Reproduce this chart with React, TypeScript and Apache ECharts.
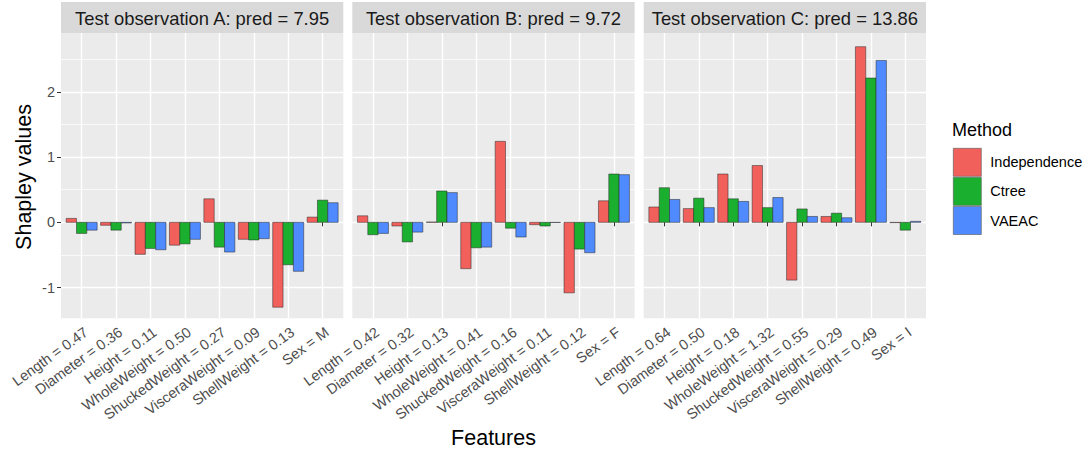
import React, { useEffect, useRef } from 'react';
import * as echarts from 'echarts';

const methods = ['Independence', 'Ctree', 'VAEAC'];
const methodColors = ['#F2605C', '#1AAF2E', '#4F8BFF'];
const panelTitles = [
  'Test observation A: pred = 7.95',
  'Test observation B: pred = 9.72',
  'Test observation C: pred = 13.86',
];
const featuresA = ['Length = 0.47', 'Diameter = 0.36', 'Height = 0.11', 'WholeWeight = 0.50', 'ShuckedWeight = 0.27', 'VisceraWeight = 0.09', 'ShellWeight = 0.13', 'Sex = M'];
const featuresB = ['Length = 0.42', 'Diameter = 0.32', 'Height = 0.13', 'WholeWeight = 0.41', 'ShuckedWeight = 0.16', 'VisceraWeight = 0.11', 'ShellWeight = 0.12', 'Sex = F'];
const featuresC = ['Length = 0.64', 'Diameter = 0.50', 'Height = 0.18', 'WholeWeight = 1.32', 'ShuckedWeight = 0.55', 'VisceraWeight = 0.29', 'ShellWeight = 0.49', 'Sex = I'];

const independenceA = [0.06, -0.045, -0.49, -0.35, 0.36, -0.26, -1.3, 0.08];
const ctreeA = [-0.17, -0.12, -0.4, -0.33, -0.38, -0.27, -0.65, 0.34];
const vaeacA = [-0.12, -0.01, -0.42, -0.26, -0.455, -0.25, -0.75, 0.3];
const independenceB = [0.1, -0.056, 0.005, -0.71, 1.24, -0.036, -1.08, 0.33];
const ctreeB = [-0.19, -0.3, 0.48, -0.39, -0.09, -0.056, -0.41, 0.74];
const vaeacB = [-0.17, -0.15, 0.455, -0.38, -0.225, -0.003, -0.465, 0.73];
const independenceC = [0.235, 0.21, 0.74, 0.87, -0.885, 0.09, 2.69, -0.005];
const ctreeC = [0.53, 0.37, 0.36, 0.225, 0.205, 0.14, 2.21, -0.12];
const vaeacC = [0.35, 0.225, 0.32, 0.38, 0.09, 0.07, 2.48, 0.015];

const yTicks = [-1, 0, 1, 2];
const yMinor = [-0.5, 0.5, 1.5, 2.5];
const xPositions = [1, 2, 3, 4, 5, 6, 7, 8];

const FONT = '"Liberation Sans", Arial, Helvetica, sans-serif';

export default function App() {
  const ref = useRef<HTMLDivElement>(null);
  useEffect(() => {
    if (!ref.current) return;
    const chart = echarts.init(ref.current, undefined, { renderer: 'svg' });
    const panelLeft = [61, 352.3, 643.7];
    const panelW = 282.3;
    const panelTop = 33;
    const panelH = 285.3;
    const featureSets = [featuresA, featuresB, featuresC];
    const valueSets = [
      [independenceA, ctreeA, vaeacA],
      [independenceB, ctreeB, vaeacB],
      [independenceC, ctreeC, vaeacC],
    ];
    const dodge = [-0.3, 0, 0.3];

    const grids = panelLeft.map((l) => ({
      left: l,
      top: panelTop,
      width: panelW,
      height: panelH,
      show: true,
      backgroundColor: '#EBEBEB',
      borderWidth: 0,
    }));

    const xAxes = featureSets.map((feats, i) => ({
      type: 'value',
      gridIndex: i,
      min: 0.4,
      max: 8.6,
      axisLine: { show: false },
      axisTick: { show: true, customValues: xPositions, length: 4, lineStyle: { color: '#333333', width: 1 } },
      axisLabel: {
        customValues: xPositions,
        rotate: 36,
        margin: 6,
        verticalAlign: 'top',
        align: 'right',
        fontSize: 14.5,
        fontFamily: FONT,
        color: '#4D4D4D',
        formatter: (v: number) => feats[Math.round(v) - 1],
      },
      splitLine: { show: true, lineStyle: { color: '#FFFFFF', width: 1.4 } },
    }));

    const yMajor = [0, 1, 2].map((i) => ({
      type: 'value',
      gridIndex: i,
      min: -1.47,
      max: 2.9,
      axisLine: { show: false },
      axisTick: { show: i === 0, customValues: yTicks, length: 4, lineStyle: { color: '#333333' } },
      axisLabel: {
        show: i === 0,
        customValues: yTicks,
        fontSize: 14.5,
        fontFamily: FONT,
        color: '#4D4D4D',
        margin: 6,
      },
      splitLine: { show: true, lineStyle: { color: '#FFFFFF', width: 1.4 } },
    }));
    const yMinorAxes = [0, 1, 2].map((i) => ({
      type: 'value',
      gridIndex: i,
      position: 'right',
      min: -1.47,
      max: 2.9,
      axisLine: { show: false },
      axisTick: { show: false, customValues: yMinor },
      axisLabel: { show: false, customValues: yMinor },
      splitLine: { show: true, lineStyle: { color: '#FFFFFF', width: 0.7 } },
    }));

    const series: any[] = [];
    for (let p = 0; p < 3; p++) {
      for (let m = 0; m < 3; m++) {
        const off = dodge[m];
        const color = methodColors[m];
        series.push({
          type: 'custom',
          name: methods[m],
          xAxisIndex: p,
          yAxisIndex: p,
          itemStyle: { color, borderColor: '#333333', borderWidth: 0.6 },
          encode: { x: 0, y: 1 },
          data: valueSets[p][m].map((v, k) => [xPositions[k], v]),
          renderItem: (params: any, api: any) => {
            const x = api.value(0);
            const y = api.value(1);
            const a = api.coord([x + off - 0.15, y]);
            const b = api.coord([x + off + 0.15, 0]);
            return {
              type: 'rect',
              shape: {
                x: a[0],
                y: Math.min(a[1], b[1]),
                width: b[0] - a[0],
                height: Math.abs(b[1] - a[1]),
              },
              style: { fill: color, stroke: 'rgba(40,40,40,0.85)', lineWidth: 0.6 },
            };
          },
        });
      }
    }

    const graphic: any[] = [];
    panelLeft.forEach((l, i) => {
      graphic.push({
        type: 'rect',
        shape: { x: l, y: 2, width: panelW, height: 31 },
        style: { fill: '#D9D9D9' },
        z: 10,
      });
      graphic.push({
        type: 'text',
        x: l + panelW / 2,
        y: 18,
        z: 11,
        style: {
          text: panelTitles[i],
          fontSize: 18.4,
          fontFamily: FONT,
          fill: '#1A1A1A',
          align: 'center',
          verticalAlign: 'middle',
        },
      });
    });
    graphic.push({
      type: 'text',
      x: 24,
      y: 177,
      rotation: Math.PI / 2,
      style: {
        text: 'Shapley values',
        fontSize: 21.5,
        fontFamily: FONT,
        fill: '#000000',
        align: 'center',
        verticalAlign: 'middle',
      },
    });
    graphic.push({
      type: 'text',
      x: 493.5,
      y: 438,
      style: {
        text: 'Features',
        fontSize: 21.5,
        fontFamily: FONT,
        fill: '#000000',
        align: 'center',
        verticalAlign: 'middle',
      },
    });

    chart.setOption({
      animation: false,
      backgroundColor: '#FFFFFF',
      title: {
        text: 'Method',
        left: 952,
        top: 121,
        padding: 0,
        textStyle: { fontSize: 18, fontWeight: 'normal', fontFamily: FONT, color: '#000000' },
      },
      legend: {
        data: methods,
        orient: 'vertical',
        left: 953,
        top: 148,
        padding: 0,
        icon: 'rect',
        itemWidth: 28,
        itemHeight: 28,
        itemGap: 0.5,
        itemStyle: { borderColor: '#555555', borderWidth: 0.6 },
        textStyle: { fontSize: 14.5, fontFamily: FONT, color: '#000000', padding: [0, 0, 0, 4] },
        selectedMode: false,
      },
      grid: grids,
      xAxis: xAxes,
      yAxis: [...yMajor, ...yMinorAxes],
      series,
      graphic,
    });
    return () => chart.dispose();
  }, []);
  return (
    <div
      ref={ref}
      style={{ position: 'fixed', left: 0, top: 0, width: 1086, height: 451, background: '#fff' }}
    />
  );
}
